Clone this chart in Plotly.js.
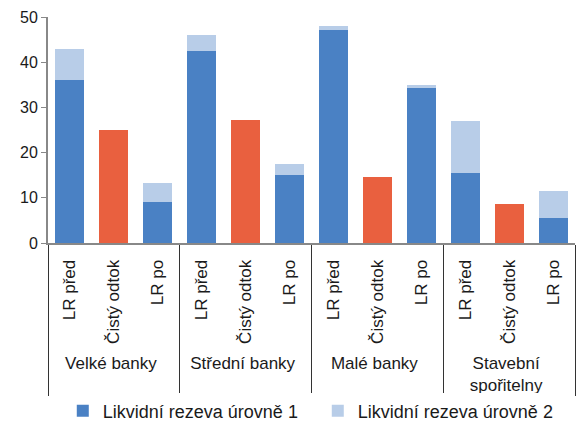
<!DOCTYPE html>
<html>
<head>
<meta charset="utf-8">
<script src="https://cdn.plot.ly/plotly-3.0.1.min.js"></script>
<style>
  html, body { margin: 0; padding: 0; background: #fff; }
  #chart { width: 576px; height: 423px; }
</style>
</head>
<body>
<div id="chart"></div>
<script>
// Bank groups and the three bars shown for each
const groups = ["Velké banky", "Střední banky", "Malé banky", "Stavební<br>spořitelny"];
const items = ["LR před", "Čistý odtok", "LR po"];

// Values per group: [LR před, Čistý odtok, LR po]
const level1 = [
  [36.1, null, 9.0],
  [42.5, null, 15.1],
  [47.2, null, 34.4],
  [15.5, null, 5.6]
];
const level2 = [
  [6.9, null, 4.3],
  [3.6, null, 2.4],
  [0.9, null, 0.6],
  [11.6, null, 5.8]
];
const outflow = [25.1, 27.3, 14.7, 8.7];

const xGroup = [], xItem = [], y1 = [], y2 = [], yOut = [];
groups.forEach((g, gi) => {
  items.forEach((it, ii) => {
    xGroup.push(g);
    xItem.push(it);
    y1.push(level1[gi][ii]);
    y2.push(level2[gi][ii]);
    yOut.push(ii === 1 ? outflow[gi] : null);
  });
});
const xCat = [xGroup, xItem];

const traces = [
  { type: "bar", name: "Likvidní rezeva úrovně 1", x: xCat, y: y1,
    marker: { color: "#4a81c4" } },
  { type: "bar", name: "Likvidní rezeva úrovně 2", x: xCat, y: y2,
    marker: { color: "#b8cde8" } },
  { type: "bar", name: "Čistý odtok", x: xCat, y: yOut,
    marker: { color: "#e9603f" }, showlegend: false }
];

const layout = {
  width: 576, height: 423,
  margin: { l: 48, r: 1, t: 17, b: 180 },
  paper_bgcolor: "#fff", plot_bgcolor: "#fff",
  barmode: "stack", bargap: 0.34,
  font: { family: "Liberation Sans, Arial, sans-serif", size: 17, color: "#1a1a1a" },
  xaxis: {
    type: "multicategory",
    tickangle: -90,
    showline: true, linecolor: "#888", linewidth: 2,
    showdividers: true, dividercolor: "#333", dividerwidth: 1,
    ticks: "", showgrid: false,
    ticklabelstandoff: 8,
    tickfont: { size: 17, color: "#1a1a1a" }
  },
  yaxis: {
    range: [0, 50], dtick: 10,
    showline: true, linecolor: "#888", linewidth: 2,
    ticks: "outside", ticklen: 5, tickcolor: "#888",
    showgrid: false, zeroline: false,
    tickfont: { size: 16, color: "#1a1a1a" }
  },
  legend: {
    orientation: "h",
    xref: "container", xanchor: "left", x: 0.109,
    yref: "container", yanchor: "middle", y: 0.028,
    traceorder: "normal",
    font: { size: 18, color: "#1a1a1a" },
    itemwidth: 30,
    entrywidth: 210, entrywidthmode: "pixels"
  },
  showlegend: true
};

Plotly.newPlot("chart", traces, layout, { displayModeBar: false, staticPlot: true });
</script>
</body>
</html>
